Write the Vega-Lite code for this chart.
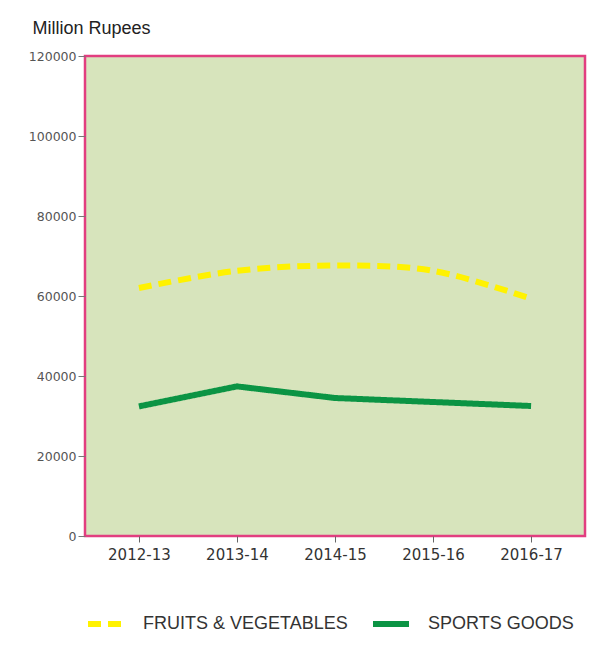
{
  "$schema": "https://vega.github.io/schema/vega-lite/v6.json",
  "width": 500,
  "height": 480,
  "autosize": {"type": "none"},
  "padding": {"left": 85, "top": 56, "right": 20, "bottom": 119},
  "background": "white",
  "data": {
    "values": [
      {"year": "2012-13", "series": "FRUITS & VEGETABLES", "value": 62000},
      {"year": "2013-14", "series": "FRUITS & VEGETABLES", "value": 66300},
      {"year": "2014-15", "series": "FRUITS & VEGETABLES", "value": 67600},
      {"year": "2015-16", "series": "FRUITS & VEGETABLES", "value": 66300},
      {"year": "2016-17", "series": "FRUITS & VEGETABLES", "value": 59300},
      {"year": "2012-13", "series": "SPORTS GOODS", "value": 32400},
      {"year": "2013-14", "series": "SPORTS GOODS", "value": 37400},
      {"year": "2014-15", "series": "SPORTS GOODS", "value": 34500},
      {"year": "2015-16", "series": "SPORTS GOODS", "value": 33500},
      {"year": "2016-17", "series": "SPORTS GOODS", "value": 32500}
    ]
  },
  "encoding": {
    "x": {
      "field": "year",
      "type": "ordinal",
      "scale": {"type": "point", "padding": 0.55},
      "axis": {
        "title": null,
        "domain": false,
        "grid": false,
        "labelAngle": 0,
        "labelFont": "DejaVu Sans",
        "labelFontSize": 15,
        "labelColor": "#333333",
        "labelPadding": 5,
        "tickSize": 6,
        "tickColor": "#666666"
      }
    },
    "y": {
      "field": "value",
      "type": "quantitative",
      "scale": {"domain": [0, 120000]},
      "axis": {
        "values": [0, 20000, 40000, 60000, 80000, 100000, 120000],
        "format": "d",
        "domain": false,
        "grid": false,
        "labelFont": "DejaVu Sans",
        "labelFontSize": 12.5,
        "labelColor": "#555555",
        "labelPadding": 2,
        "tickSize": 7,
        "tickColor": "#777777",
        "title": "Million Rupees",
        "titleAngle": 0,
        "titleAlign": "left",
        "titleBaseline": "middle",
        "titleX": -53,
        "titleY": -28,
        "titleFont": "Liberation Sans",
        "titleFontSize": 18,
        "titleFontWeight": "normal",
        "titleColor": "#222222"
      }
    },
    "color": {
      "field": "series",
      "type": "nominal",
      "scale": {"domain": ["FRUITS & VEGETABLES", "SPORTS GOODS"], "range": ["#fff200", "#0b9444"]},
      "legend": {
        "title": null,
        "orient": "none",
        "direction": "horizontal",
        "legendX": 0,
        "legendY": 547,
        "symbolType": "stroke",
        "symbolStrokeWidth": 6,
        "symbolSize": 1296,
        "symbolOffset": 0,
        "labelFont": "Liberation Sans",
        "labelFontSize": 18,
        "labelColor": "#333333",
        "labelOffset": 16,
        "labelLimit": 400,
        "columnPadding": 13
      }
    },
    "strokeDash": {
      "field": "series",
      "type": "nominal",
      "scale": {"domain": ["FRUITS & VEGETABLES", "SPORTS GOODS"], "range": [[13, 7], [1, 0]]},
      "legend": null
    }
  },
  "layer": [
    {
      "transform": [{"filter": "datum.series === 'FRUITS & VEGETABLES'"}],
      "mark": {"type": "line", "interpolate": "cardinal", "strokeWidth": 6}
    },
    {
      "transform": [{"filter": "datum.series === 'SPORTS GOODS'"}],
      "mark": {"type": "line", "strokeWidth": 6}
    }
  ],
  "config": {
    "view": {"fill": "#d7e4bc", "stroke": "#e23e80", "strokeWidth": 2.5}
  }
}
